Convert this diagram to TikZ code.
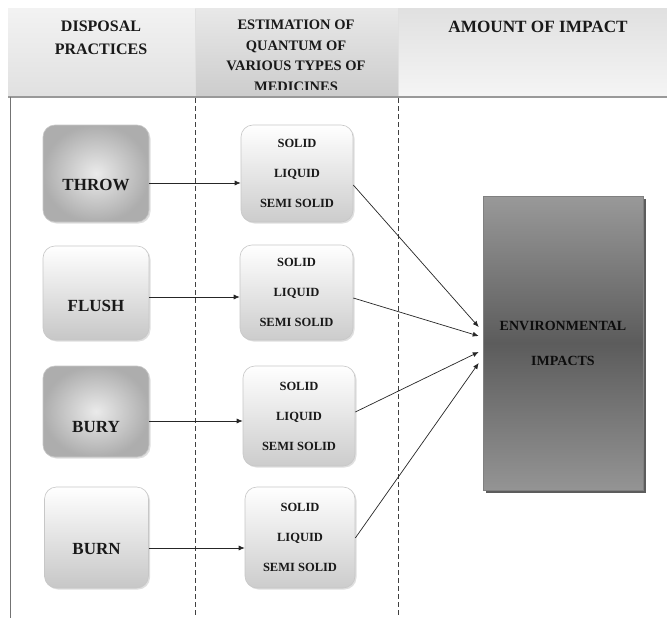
\documentclass[tikz,border=0pt]{standalone}
\usepackage{fontspec}
\setmainfont{Liberation Serif}
\newfontfamily\tnr{Liberation Serif}
\usetikzlibrary{arrows.meta,shadows,calc}
\begin{document}
\begin{tikzpicture}[x=1pt,y=-1pt,
  hdrL/.style={font=\tnr\bfseries\fontsize{16}{23}\selectfont, align=center, text=black!90},
  hdrM/.style={font=\tnr\bfseries\fontsize{14.5}{20.5}\selectfont, align=center, text=black!90},
  boxbase/.style={draw=black!22, line width=0.6pt, rounded corners=12pt, inner sep=0pt,
    drop shadow={opacity=0.25, shadow xshift=1.5pt, shadow yshift=-1.5pt}},
  darkbox/.style={boxbase, inner color=black!8, outer color=black!32},
  lightbox/.style={boxbase, top color=white, bottom color=black!22},
  midbox/.style={boxbase, top color=white, bottom color=black!20,
    font=\tnr\bfseries\fontsize{12.5}{30}\selectfont, align=center, text=black!90},
  boxlabel/.style={font=\tnr\bfseries\fontsize{17}{20}\selectfont, text=black!90},
  envbox/.style={draw=black!50, line width=0.6pt, top color=black!40, bottom color=black!42, middle color=black!64,
    drop shadow={opacity=0.85, fill=black!75, shadow xshift=3pt, shadow yshift=-3pt},
    font=\tnr\bfseries\fontsize{14}{35}\selectfont, align=center, text=black!95},
  arr/.style={-{Latex[length=6pt,width=5pt]}, line width=0.7pt, black!85},
  divider/.style={black!75, line width=0.8pt, dash pattern=on 5pt off 3pt}
]
\useasboundingbox (0,0) rectangle (667,618);
\fill[white] (0,0) rectangle (667,618);

% header band
\shade[top color=black!5, bottom color=black!12] (8,9) rectangle (195,97);
\shade[top color=black!9, bottom color=black!20] (195,9) rectangle (398,97);
\shade[top color=black!12, bottom color=black!4] (398,9) rectangle (667,97);
\draw[black!12, line width=0.5pt] (195,9) -- (195,97) (398,9) -- (398,97);
\draw[black!40, line width=1.5pt] (8,97) -- (667,97);

\node[hdrL] (h1) at (101,38) {DISPOSAL\\PRACTICES};
\begin{scope}
  \clip (195,9) rectangle (398,90);
  \node[hdrM] (h2) at (296,56) {ESTIMATION OF\\QUANTUM OF\\VARIOUS TYPES OF\\MEDICINES};
\end{scope}
\node[hdrL, font=\tnr\bfseries\fontsize{17.2}{20}\selectfont] (h3) at (538,27) {AMOUNT OF IMPACT};

% column lines
\draw[black!55, line width=1pt] (10,97) -- (10,618);
\draw[divider] (195,98) -- (195,618);
\draw[divider] (398,98) -- (398,618);

% left boxes
\node[darkbox, minimum width=106pt, minimum height=97pt] (throw) at (96,173.5) {};
\node[lightbox, minimum width=106pt, minimum height=94pt] (flush) at (96,293) {};
\node[darkbox, minimum width=106pt, minimum height=91pt] (bury) at (96,411.5) {};
\node[lightbox, minimum width=104pt, minimum height=101pt] (burn) at (96.5,537.5) {};
\node[boxlabel] (throwt) at (96,185) {THROW};
\node[boxlabel] (flusht) at (96,306) {FLUSH};
\node[boxlabel] (buryt) at (96,427) {BURY};
\node[boxlabel] (burnt) at (96.5,549) {BURN};

% middle boxes
\node[midbox, minimum width=112pt, minimum height=97pt] (m1) at (297,173.5) {SOLID\\LIQUID\\SEMI SOLID};
\node[midbox, minimum width=113pt, minimum height=95pt] (m2) at (296.5,292.5) {SOLID\\LIQUID\\SEMI SOLID};
\node[midbox, minimum width=112pt, minimum height=100pt] (m3) at (299,416) {SOLID\\LIQUID\\SEMI SOLID};
\node[midbox, minimum width=110pt, minimum height=101pt] (m4) at (300,537.5) {SOLID\\LIQUID\\SEMI SOLID};

% right box
\node[envbox, minimum width=160pt, minimum height=294pt] (env) at (563,343) {ENVIRONMENTAL\\IMPACTS};

% horizontal arrows
\coordinate (p1) at ($(throw.east)+(0,9.5)$);
\coordinate (p2) at ($(flush.east)+(0,4)$);
\coordinate (p3) at ($(bury.east)+(0,9.5)$);
\coordinate (p4) at ($(burn.east)+(0,10.5)$);
\draw[arr] (p1) -- (p1 -| m1.west);
\draw[arr] (p2) -- (p2 -| m2.west);
\draw[arr] (p3) -- (p3 -| m3.west);
\draw[arr] (p4) -- (p4 -| m4.west);

% converging arrows
\draw[arr] ($(m1.east)+(0,11.5)$) -- ($(env.west)+(-4,-16)$);
\draw[arr] ($(m2.east)+(0,5.5)$) -- ($(env.west)+(-4,-7)$);
\draw[arr] ($(m3.east)+(0,-4)$) -- ($(env.west)+(-4,9)$);
\draw[arr] ($(m4.east)+(0,0.5)$) -- ($(env.west)+(-4,20)$);
\end{tikzpicture}
\end{document}
